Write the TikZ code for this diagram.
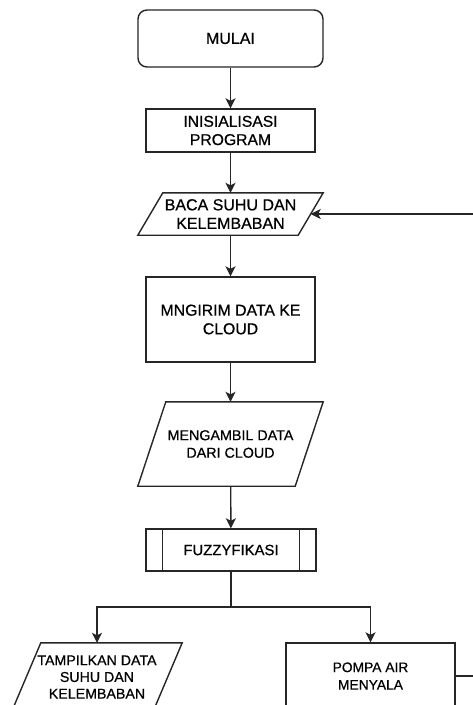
\documentclass[tikz,border=0pt]{standalone}
\usepackage{fontspec}
\setmainfont{Liberation Sans}[FakeBold=0.6]
\usetikzlibrary{arrows.meta,calc}
\definecolor{lc}{HTML}{262626}
\newcommand\drawpgram[2]{\draw[shapeline] ([xshift=#2]#1.north west) -- (#1.north east) -- ([xshift=-#2]#1.south east) -- (#1.south west) -- cycle;}
\begin{document}
\begin{tikzpicture}[x=1pt,y=-1pt,
  shapeline/.style={draw=lc, line width=1.4pt},
  box/.style={shapeline, inner sep=0pt, align=center, text=black},
  ghost/.style={inner sep=0pt, align=center, text=black},
  arr/.style={draw=lc, line width=1.4pt, -{Stealth[length=10pt,width=10pt,inset=2.5pt]}},
  conn/.style={draw=lc, line width=1.4pt}]
\useasboundingbox (0,0) rectangle (473,705);
\clip (0,0) rectangle (473,705);
\fill[white] (0,0) rectangle (473,705);

\node[box, rounded corners=9pt, minimum width=185pt, minimum height=57pt,
  font=\fontsize{16}{18.5}\selectfont] (mulai) at (230.5,38.5) {MULAI};
\node[box, minimum width=169pt, minimum height=43pt,
  font=\fontsize{15.7}{18.3}\selectfont] (init) at (230.5,130.5) {INISIALISASI\\PROGRAM};
\node[ghost, minimum width=185pt, minimum height=42pt,
  font=\fontsize{16}{18.5}\selectfont] (baca) at (230.5,214) {BACA SUHU DAN\\KELEMBABAN};
\drawpgram{baca}{25pt}
\node[box, minimum width=169pt, minimum height=85pt,
  font=\fontsize{15.8}{18.6}\selectfont] (kirim) at (230.5,319.5) {MNGIRIM DATA KE\\CLOUD};
\node[ghost, minimum width=185pt, minimum height=84pt,
  font=\fontsize{14.3}{17.5}\selectfont] (ambil) at (230.5,444) {MENGAMBIL DATA\\DARI CLOUD};
\drawpgram{ambil}{28pt}
\node[box, minimum width=170pt, minimum height=42pt,
  font=\fontsize{14.9}{17.5}\selectfont] (fuzzy) at (231,550) {FUZZYFIKASI};
\draw[shapeline] ([xshift=17pt]fuzzy.north west) -- ([xshift=17pt]fuzzy.south west);
\draw[shapeline] ([xshift=-17pt]fuzzy.north east) -- ([xshift=-17pt]fuzzy.south east);
\node[ghost, minimum width=170pt, minimum height=68pt,
  font=\fontsize{14.2}{16.7}\selectfont] (tampil) at (97,677) {TAMPILKAN DATA\\SUHU DAN\\KELEMBABAN};
\drawpgram{tampil}{29pt}
\node[box, minimum width=169pt, minimum height=66pt,
  font=\fontsize{13.8}{17.5}\selectfont] (pompa) at (370.5,676) {POMPA AIR\\MENYALA};

\draw[arr] (mulai) -- (init);
\draw[arr] (init) -- (baca);
\draw[arr] (baca) -- (kirim);
\draw[arr] (kirim) -- (ambil);
\draw[arr] (ambil) -- (fuzzy);
\coordinate (split) at (231,607);
\draw[conn] (fuzzy.south) -- (split);
\draw[arr] (split) -| (tampil.north);
\draw[arr] (split) -| (pompa.north);
\coordinate (loop) at (500,0);
\draw[arr] (pompa.east) -- (loop |- pompa.east) -- (loop |- baca.east) -- ([xshift=-12.5pt]baca.east);
\end{tikzpicture}
\end{document}
